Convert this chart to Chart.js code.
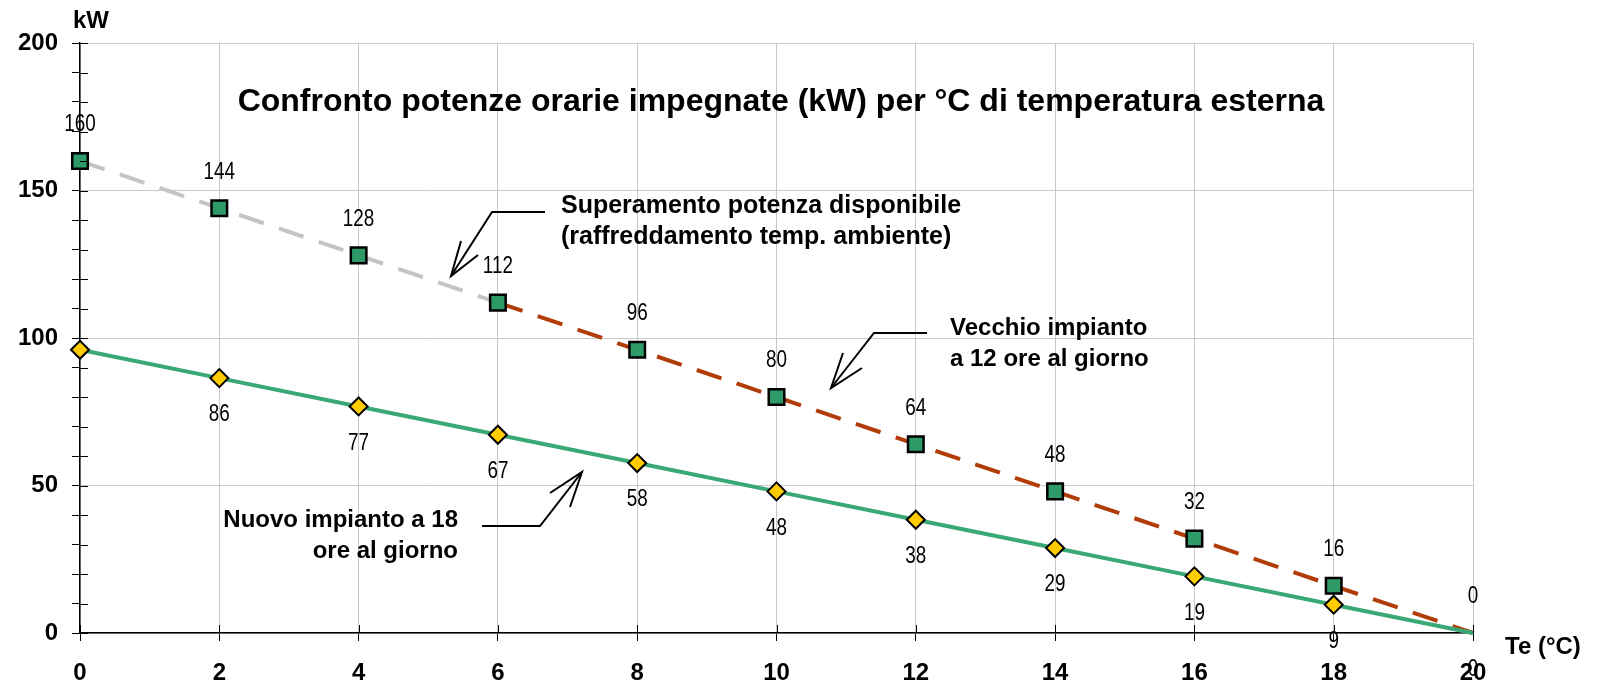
<!DOCTYPE html>
<html><head><meta charset="utf-8">
<script src="https://cdn.jsdelivr.net/npm/chart.js@4.4.0/dist/chart.umd.min.js"></script>
<style>html,body{margin:0;padding:0;background:#fff;overflow:hidden}#wrap{width:1605px;height:687px;position:relative}</style>
</head><body><div id="wrap"><canvas id="c" width="1605" height="687"></canvas></div>
<script>
// ---- data ----
const temps = [0, 2, 4, 6, 8, 10, 12, 14, 16, 18, 20];
const oldPower = [160, 144, 128, 112, 96, 80, 64, 48, 32, 16, 0];
const newPower = [96, 86.4, 76.8, 67.2, 57.6, 48, 38.4, 28.8, 19.2, 9.6, 0];
const oldLabels = ['160', '144', '128', '112', '96', '80', '64', '48', '32', '16', '0'];
const newLabels = ['', '86', '77', '67', '58', '48', '38', '29', '19', '9', '0'];
const oldName = 'Vecchio impianto a 12 ore al giorno';
const newName = 'Nuovo impianto a 18 ore al giorno';
const chartTitle = 'Confronto potenze orarie impegnate (kW) per °C di temperatura esterna';
const yAxisTitle = 'kW';
const xAxisTitle = 'Te (°C)';
const overLimitFrom = 6; // grey segment of old series up to this temperature
const noteOver = ['Superamento potenza disponibile', '(raffreddamento temp. ambiente)'];
const noteOld = ['Vecchio impianto', 'a 12 ore al giorno'];
const noteNew = ['Nuovo impianto a 18', 'ore al giorno'];

const FONT = '"Liberation Sans", Arial, Helvetica, sans-serif';
const GRID = '#c8c8c8';

const decorPlugin = {
  id: 'decor',
  afterDraw(chart) {
    const ctx = chart.ctx;
    const xs = chart.scales.x, ys = chart.scales.y;
    const ca = chart.chartArea;
    ctx.save();
    // inner tick halves
    ctx.strokeStyle = '#000';
    ctx.lineWidth = 1;
    ys.ticks.forEach(t => {
      const py = Math.round(ys.getPixelForValue(t.value)) + 0.5;
      ctx.beginPath(); ctx.moveTo(ca.left, py); ctx.lineTo(ca.left + 8, py); ctx.stroke();
    });
    xs.ticks.forEach(t => {
      const px = Math.round(xs.getPixelForValue(t.value)) + 0.5;
      ctx.beginPath(); ctx.moveTo(px, ca.bottom); ctx.lineTo(px, ca.bottom - 8); ctx.stroke();
    });
    ctx.restore();

    // data labels (narrow font)
    const drawNarrow = (txt, x, y) => {
      ctx.save();
      ctx.translate(x, y);
      ctx.scale(0.82, 1);
      ctx.font = '23px ' + FONT;
      ctx.fillStyle = '#000';
      ctx.textAlign = 'center';
      ctx.textBaseline = 'middle';
      ctx.fillText(txt, 0, 0);
      ctx.restore();
    };
    temps.forEach((t, i) => {
      const px = xs.getPixelForValue(t);
      if (oldLabels[i]) drawNarrow(oldLabels[i], px, ys.getPixelForValue(oldPower[i]) - 36);
      if (newLabels[i]) drawNarrow(newLabels[i], px, ys.getPixelForValue(newPower[i]) + 37);
    });

    ctx.save();
    ctx.fillStyle = '#000';
    ctx.textBaseline = 'alphabetic';
    // title
    ctx.font = 'bold 32px ' + FONT;
    ctx.textAlign = 'center';
    ctx.fillText(chartTitle, 781, 111);
    // axis titles
    ctx.font = 'bold 24px ' + FONT;
    ctx.textAlign = 'left';
    ctx.fillText(yAxisTitle, 73, 28);
    ctx.fillText(xAxisTitle, 1505, 654);
    // notes
    ctx.font = 'bold 25px ' + FONT;
    ctx.textAlign = 'left';
    ctx.fillText(noteOver[0], 561, 213);
    ctx.fillText(noteOver[1], 561, 244);
    ctx.font = 'bold 24px ' + FONT;
    ctx.fillText(noteOld[0], 950, 335);
    ctx.fillText(noteOld[1], 950, 366);
    ctx.textAlign = 'right';
    ctx.fillText(noteNew[0], 458, 527);
    ctx.fillText(noteNew[1], 458, 558);

    // arrows
    ctx.strokeStyle = '#000';
    ctx.lineWidth = 2;
    const arrow = (pts, tip, b1, b2) => {
      ctx.beginPath();
      ctx.moveTo(pts[0][0], pts[0][1]);
      for (let k = 1; k < pts.length; k++) ctx.lineTo(pts[k][0], pts[k][1]);
      ctx.lineTo(tip[0], tip[1]);
      ctx.stroke();
      ctx.beginPath();
      ctx.moveTo(b1[0], b1[1]); ctx.lineTo(tip[0], tip[1]); ctx.lineTo(b2[0], b2[1]);
      ctx.stroke();
    };
    arrow([[545, 212], [492, 212]], [451, 276], [461, 241], [478, 255]);
    arrow([[927, 333], [874, 333]], [831, 388], [843, 353], [862, 368]);
    arrow([[482, 526], [540, 526]], [582, 472], [550, 493], [570, 507]);
    ctx.restore();
  }
};

const lastIdx = temps.length - 1;
new Chart(document.getElementById('c'), {
  type: 'line',
  data: {
    datasets: [
      {
        label: newName,
        data: temps.map((t, i) => ({ x: t, y: newPower[i] })),
        borderColor: '#3aa876',
        borderWidth: 4,
        pointStyle: 'rectRot',
        pointRadius: ctx => ctx.dataIndex === lastIdx ? 0 : 9,
        pointBackgroundColor: '#ffcc00',
        pointBorderColor: '#000',
        pointBorderWidth: 2,
        tension: 0,
        clip: false,
        order: 0
      },
      {
        label: oldName,
        data: temps.map((t, i) => ({ x: t, y: oldPower[i] })),
        borderColor: '#b03c08',
        borderWidth: 4,
        borderDash: [26, 16],
        segment: {
          borderColor: ctx => ctx.p1.parsed.x <= overLimitFrom ? '#c4c4c4' : '#b03c08'
        },
        pointStyle: 'rect',
        pointRadius: ctx => ctx.dataIndex === lastIdx ? 0 : 11,
        pointBackgroundColor: '#2e9a68',
        pointBorderColor: '#000',
        pointBorderWidth: 2.5,
        tension: 0,
        clip: false,
        order: 1
      }
    ]
  },
  options: {
    responsive: false,
    devicePixelRatio: 1,
    animation: false,
    events: [],
    layout: { padding: { top: 43, right: 132, left: 0, bottom: 0 } },
    plugins: { legend: { display: false }, tooltip: { enabled: false }, title: { display: false } },
    scales: {
      x: {
        type: 'linear', min: 0, max: 20,
        ticks: { stepSize: 2, color: '#000', font: { family: FONT, size: 24, weight: 'bold' }, padding: 18, maxRotation: 0 },
        grid: { color: GRID, lineWidth: 1, tickColor: '#000', tickLength: 8, drawTicks: true },
        border: { color: '#000', width: 1.5 },
        afterFit: s => { s.height = 54; }
      },
      y: {
        min: 0, max: 200,
        ticks: {
          stepSize: 10, autoSkip: false, color: '#000',
          font: { family: FONT, size: 24, weight: 'bold' }, padding: 14,
          callback: v => (v % 50 === 0 ? String(v) : '')
        },
        grid: {
          color: ctx => (ctx.tick && ctx.tick.value % 50 === 0 ? GRID : 'rgba(0,0,0,0)'),
          lineWidth: 1, tickColor: '#000', tickLength: 8, drawTicks: true
        },
        border: { color: '#000', width: 1.5 },
        afterFit: s => { s.width = 80; }
      }
    }
  },
  plugins: [decorPlugin]
});
</script>
</body></html>
